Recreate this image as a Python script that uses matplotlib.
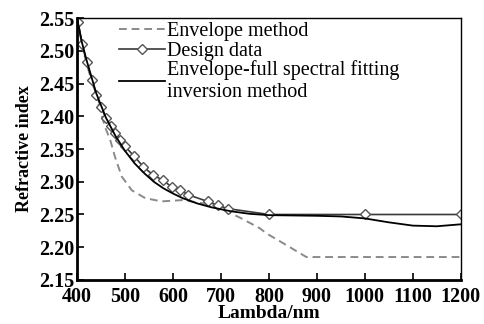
import matplotlib
matplotlib.use("Agg")
import matplotlib.pyplot as plt

# Design data
design_lam = [402, 410, 420, 431, 440, 450, 460, 470, 480, 490, 500, 519, 538, 559, 580, 597, 615, 632, 672, 693, 714, 800, 1000, 1200]
design_n = [2.544, 2.511, 2.483, 2.455, 2.432, 2.414, 2.398, 2.385, 2.374, 2.364, 2.354, 2.339, 2.323, 2.310, 2.302, 2.292, 2.287, 2.280, 2.270, 2.264, 2.259, 2.250, 2.250, 2.250]

# Envelope-full spectral fitting inversion method
fit_lam = [400, 410, 420, 440, 460, 480, 500, 520, 540, 560, 580, 600, 620, 650, 680, 720, 760, 800, 900, 950, 1000, 1050, 1100, 1150, 1200]
fit_n = [2.550, 2.513, 2.485, 2.435, 2.398, 2.370, 2.347, 2.328, 2.313, 2.300, 2.290, 2.282, 2.275, 2.267, 2.261, 2.255, 2.251, 2.249, 2.248, 2.247, 2.244, 2.238, 2.233, 2.232, 2.235]

# Envelope method
env_lam = [400, 410, 420, 430, 440, 448, 458, 469, 479, 493, 514, 542, 576, 620, 680, 720, 740, 781, 795, 830, 878, 900, 1000, 1100, 1200]
env_n = [2.550, 2.510, 2.480, 2.455, 2.430, 2.410, 2.384, 2.364, 2.338, 2.308, 2.287, 2.275, 2.270, 2.272, 2.265, 2.252, 2.245, 2.229, 2.221, 2.206, 2.185, 2.185, 2.185, 2.185, 2.185]

xticks = [400, 500, 600, 700, 800, 900, 1000, 1100, 1200]
yticks = [2.15, 2.20, 2.25, 2.30, 2.35, 2.40, 2.45, 2.50, 2.55]

plt.rcParams['font.family'] = ['Liberation Serif', 'DejaVu Serif']

fig = plt.figure(figsize=(4.85, 3.24), dpi=100)
ax = fig.add_axes([0.159, 0.136, 0.791, 0.808])

ax.plot(env_lam, env_n, linestyle=(0, (4, 2.5)), color='#8a8a8a', lw=1.4, label='Envelope method')
ax.plot(design_lam, design_n, color='#3a3a3a', lw=1.2, marker='D', markersize=5.5,
        markerfacecolor='white', markeredgecolor='#555555', markeredgewidth=1.0, label='Design data')
ax.plot(fit_lam, fit_n, color='black', lw=1.3, label='Envelope-full spectral fitting\ninversion method')

ax.set_xlim(400, 1200)
ax.set_ylim(2.15, 2.55)
ax.set_xticks(xticks)
ax.set_yticks(yticks)
ax.set_xticklabels([str(t) for t in xticks], fontsize=14.5, fontweight='bold')
ax.set_yticklabels([f"{t:.2f}" for t in yticks], fontsize=14.5, fontweight='bold')
ax.tick_params(direction='in', length=5, width=1.2)
ax.tick_params(axis='x', pad=5)
ax.tick_params(axis='y', pad=2)

ax.set_xlabel('Lambda/nm', fontsize=14, fontweight='bold', labelpad=-1)
ax.set_ylabel('Refractive index', fontsize=13, fontweight='bold', labelpad=4)

ax.spines['left'].set_linewidth(2.0)
ax.spines['bottom'].set_linewidth(2.0)
ax.spines['top'].set_linewidth(1.0)
ax.spines['right'].set_linewidth(1.0)

leg = ax.legend(loc='upper left', bbox_to_anchor=(0.077, 1.03), frameon=False, fontsize=14.5,
                handlelength=2.3, handletextpad=0.1, labelspacing=0.0, borderaxespad=0.2)

fig.savefig('out.png', dpi=100)
